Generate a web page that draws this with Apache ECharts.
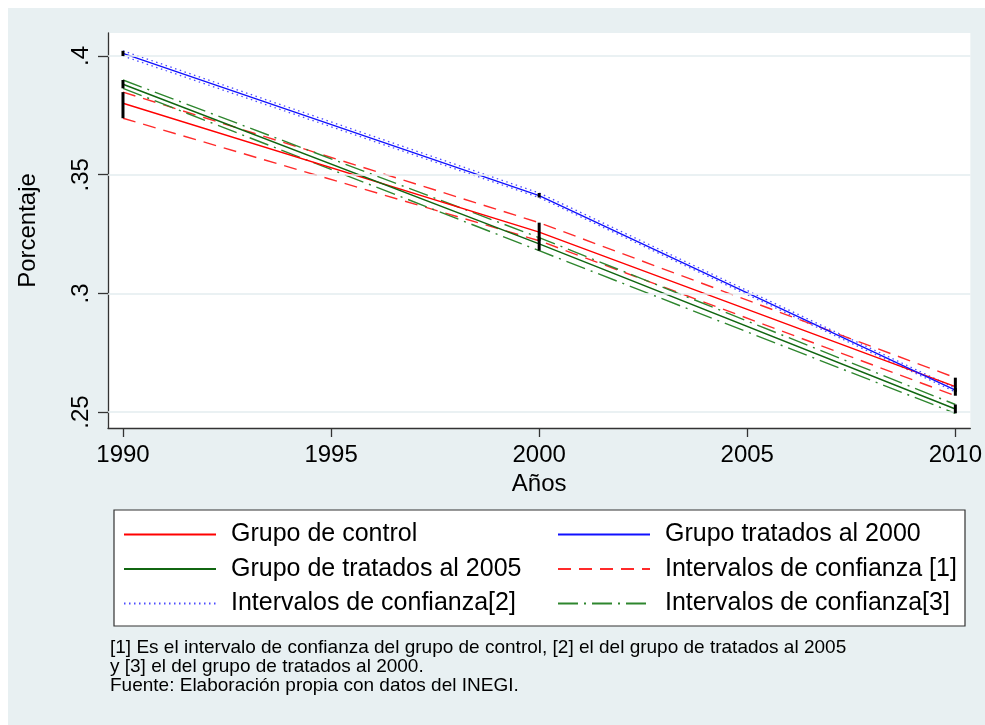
<!DOCTYPE html>
<html>
<head>
<meta charset="utf-8">
<script src="https://cdn.jsdelivr.net/npm/echarts@6/dist/echarts.min.js"></script>
<style>
  html, body { margin: 0; padding: 0; background: #fff; }
  #chart { position: absolute; left: 8px; top: 8px; width: 977px; height: 717px; }
</style>
</head>
<body>
<div id="chart"></div>
<script>
// años con observación
var years = [1990, 2000, 2010];
var xTicks = [1990, 1995, 2000, 2005, 2010];
var yTicks = [0.25, 0.3, 0.35, 0.4];

// grupo de control (rojo)
var control   = [0.3801, 0.3258, 0.2607];
var controlHi = [0.3848, 0.3298, 0.2645];
var controlLo = [0.3738, 0.3222, 0.2569];

// tratados al 2000 (azul)
var treated2000   = [0.4011, 0.3412, 0.2593];
var treated2000Hi = [0.4022, 0.3423, 0.2601];
var treated2000Lo = [0.4000, 0.3404, 0.2585];

// tratados al 2005 (verde)
var treated2005   = [0.3881, 0.3209, 0.2513];
var treated2005Hi = [0.3899, 0.3235, 0.2532];
var treated2005Lo = [0.3864, 0.3180, 0.2495];

var FONT = 'Liberation Sans, Arial, sans-serif';

function pts(arr) {
  return years.map(function (y, i) { return [y, arr[i]]; });
}

function lineSeries(name, arr, color, type, width) {
  return {
    name: name,
    type: 'line',
    data: pts(arr),
    symbol: 'none',
    z: 3,
    lineStyle: { color: color, width: width || 1.4, type: type || 'solid' },
    itemStyle: { color: color }
  };
}

// barras negras de los intervalos
var bars = [];
years.forEach(function (y, i) {
  bars.push([y, treated2000Lo[i], treated2000Hi[i]]);
  bars.push([y, controlLo[i], controlHi[i]]);
  bars.push([y, treated2005Lo[i], treated2005Hi[i]]);
});

var legendBase = {
  top: 513, orient: 'vertical', padding: 0,
  itemWidth: 92, itemHeight: 4, itemGap: 7.5,
  itemStyle: { opacity: 0 },
  textStyle: { fontSize: 25, lineHeight: 27, color: '#000', fontFamily: FONT, padding: [0, 0, 0, 10] }
};

var chart = echarts.init(document.getElementById('chart'));

chart.setOption({
  animation: false,
  backgroundColor: '#E8F0F2',
  textStyle: { fontFamily: FONT },
  grid: {
    left: 97, right: 12, top: 25, bottom: 297,
    show: true, backgroundColor: '#fff', borderWidth: 0
  },
  xAxis: {
    type: 'value',
    min: 1989.64,
    max: 2010.36,
    name: 'Años',
    nameLocation: 'middle',
    nameGap: 39,
    nameTextStyle: { fontSize: 24, color: '#000', fontFamily: FONT },
    axisLine: { show: true, lineStyle: { color: '#333', width: 1.3 } },
    axisTick: { show: true, length: 9, customValues: xTicks, lineStyle: { color: '#333', width: 1.3 } },
    axisLabel: {
      customValues: xTicks, margin: 15, fontSize: 24, color: '#000', fontFamily: FONT,
      formatter: function (v) { return String(v); }
    },
    splitLine: { show: false }
  },
  yAxis: {
    type: 'value',
    min: 0.2433,
    max: 0.4097,
    name: 'Porcentaje',
    nameLocation: 'middle',
    nameRotate: 90,
    nameGap: 68,
    nameTextStyle: { fontSize: 24, color: '#000', fontFamily: FONT },
    axisLine: { show: true, lineStyle: { color: '#333', width: 1.3 } },
    axisTick: { show: true, length: 10, customValues: yTicks, lineStyle: { color: '#333', width: 1.3 } },
    axisLabel: {
      customValues: yTicks, rotate: 90, margin: 15, fontSize: 24, color: '#000', fontFamily: FONT,
      formatter: function (v) { return String(+v.toFixed(2)).replace('0.', '.'); }
    },
    splitLine: { show: false }
  },
  legend: [
    Object.assign({}, legendBase, {
      left: 115,
      data: ['Grupo de control', 'Grupo de tratados al 2005', 'Intervalos de confianza[2]']
    }),
    Object.assign({}, legendBase, {
      left: 549,
      data: ['Grupo tratados al 2000', 'Intervalos de confianza [1]', 'Intervalos de confianza[3]']
    })
  ],
  graphic: [
    {
      type: 'rect', z: -1,
      shape: { x: 106, y: 502, width: 851, height: 116 },
      style: { fill: '#fff', stroke: '#333', lineWidth: 1.2 }
    },
    {
      type: 'text', left: 102, top: 630,
      style: {
        text: '[1] Es el intervalo de confianza del grupo de control, [2] el del grupo de tratados al 2005\n' +
              'y [3] el del grupo de tratados al 2000.\n' +
              'Fuente: Elaboración propia con datos del INEGI.',
        font: '19px ' + FONT, lineHeight: 19, fill: '#000'
      }
    }
  ],
  series: [
    {
      name: 'grid', type: 'line', data: [], z: 1, silent: true,
      markLine: {
        silent: true, symbol: 'none', label: { show: false },
        lineStyle: { color: '#E3ECEF', width: 1.5, type: 'solid' },
        data: yTicks.map(function (v) { return { yAxis: v }; })
      }
    },
    lineSeries('Intervalos de confianza[2]', treated2000Hi, '#4B4BFF', [1.5, 3.5], 1.3),
    lineSeries('Intervalos de confianza[2]', treated2000Lo, '#4B4BFF', [1.5, 3.5], 1.3),
    lineSeries('Intervalos de confianza [1]', controlHi, '#FF2A2A', [13, 8], 1.4),
    lineSeries('Intervalos de confianza [1]', controlLo, '#FF2A2A', [13, 8], 1.4),
    lineSeries('Intervalos de confianza[3]', treated2005Hi, '#2E862E', [20, 6, 2, 6], 1.4),
    lineSeries('Intervalos de confianza[3]', treated2005Lo, '#2E862E', [20, 6, 2, 6], 1.4),
    lineSeries('Grupo de control', control, '#FF0000'),
    lineSeries('Grupo de tratados al 2005', treated2005, '#116611'),
    lineSeries('Grupo tratados al 2000', treated2000, '#1010FF'),
    {
      name: 'barras', type: 'custom', z: 5, silent: true,
      data: bars,
      encode: { x: 0, y: [1, 2] },
      renderItem: function (params, api) {
        var a = api.coord([api.value(0), api.value(1)]);
        var b = api.coord([api.value(0), api.value(2)]);
        return {
          type: 'line',
          shape: { x1: a[0], y1: a[1], x2: b[0], y2: b[1] },
          style: { stroke: '#000', lineWidth: 3 }
        };
      }
    }
  ]
});
</script>
</body>
</html>
